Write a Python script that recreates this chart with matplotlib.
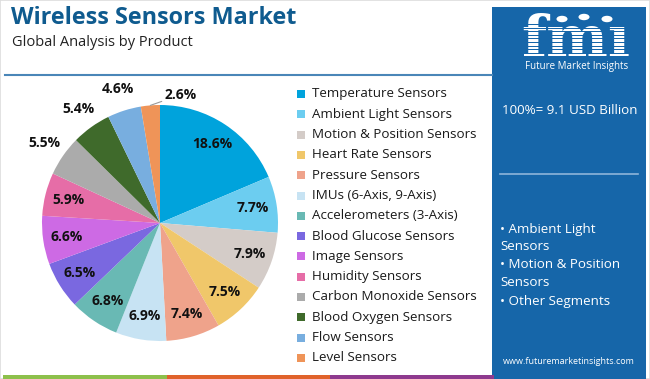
import numpy as np
import matplotlib.pyplot as plt
from matplotlib.patches import Rectangle, Circle

W, H = 650, 379

# data
products = ['Temperature Sensors', 'Ambient Light Sensors', 'Motion & Position Sensors',
            'Heart Rate Sensors', 'Pressure Sensors', 'IMUs (6-Axis, 9-Axis)',
            'Accelerometers (3-Axis)', 'Blood Glucose Sensors', 'Image Sensors',
            'Humidity Sensors', 'Carbon Monoxide Sensors', 'Blood Oxygen Sensors',
            'Flow Sensors', 'Level Sensors']
shares = [18.6, 7.7, 7.9, 7.5, 7.4, 6.9, 6.8, 6.5, 6.6, 5.9, 5.5, 5.4, 4.6, 2.6]
colors = ['#00A3DC', '#6CCDF0', '#D4CCC8', '#F0C76A', '#EFA38B', '#C7E3F3', '#69B9B4',
          '#7A68E0', '#CD6AE4', '#E66DA7', '#ABABAB', '#3F6A2B', '#78AEDF', '#EF9458']
total_text = '100%= 9.1 USD Billion'
top_segments = ['Ambient Light', 'Motion & Position', 'Other Segments']

title_col = '#0F5B8F'
panel_col = '#1666A9'


def fx(x):
    return x / W


def fy(y):
    return 1 - y / H


fig = plt.figure(figsize=(W / 100, H / 100), dpi=100)
fig.patch.set_facecolor('white')

# thin frame round the card
fig.patches.append(Rectangle((0, 0), 1, 1, transform=fig.transFigure, fill=False,
                             edgecolor='#DDDDDD', linewidth=1.2))

# title block
fig.text(fx(11), fy(18), 'Wireless Sensors Market', fontsize=16.8, fontweight='bold',
         family='Open Sans', color=title_col, va='center', ha='left')
fig.text(fx(12), fy(42), 'Global Analysis by Product', fontsize=10.5,
         family='Open Sans', color='#222222', va='center', ha='left')
fig.lines.append(plt.Line2D([fx(5), fx(492)], [fy(75), fy(75)], transform=fig.transFigure,
                            color='#4A86B8', linewidth=1.5))

# pie
R = 118
cx, cy = 160, 223
ax = fig.add_axes([fx(cx - R), fy(cy + R), 2 * R / W, 2 * R / H])
wedges, _ = ax.pie(shares, colors=colors, startangle=90, counterclock=False, radius=1,
                   wedgeprops=dict(linewidth=0))
ax.set_xlim(-1, 1)
ax.set_ylim(-1, 1)
ax.axis('off')

for i, w in enumerate(wedges):
    a = np.deg2rad((w.theta1 + w.theta2) / 2)
    lab = f'{shares[i]:.1f}%'
    kw = dict(fontsize=10, fontweight='bold', family='Open Sans', color='#111111',
              ha='center', va='center')
    if i == len(wedges) - 1:
        ax.annotate(lab, xy=(np.cos(a), np.sin(a)), xytext=(np.cos(a) + 0.12, np.sin(a) + 0.09),
                    ha='left', va='center', fontsize=10, fontweight='bold', family='Open Sans',
                    color='#111111', annotation_clip=False,
                    arrowprops=dict(arrowstyle='-', color='#999999', lw=0.8,
                                    shrinkA=0, shrinkB=0))
    elif shares[i] < 5.6:
        ax.text(1.19 * np.cos(a), 1.19 * np.sin(a), lab, clip_on=False, **kw)
    else:
        ax.text(0.8 * np.cos(a), 0.8 * np.sin(a), lab, **kw)

# legend
for i, (name, c) in enumerate(zip(products, colors)):
    y = 94 + i * 20.3
    fig.patches.append(Rectangle((fx(297), fy(y + 4)), 8 / W, 8 / H, transform=fig.transFigure,
                                 facecolor=c, edgecolor='none'))
    fig.text(fx(312), fy(y), name, fontsize=9.6, family='Open Sans', color='#1A1A1A',
             va='center', ha='left')

# right panel
fig.patches.append(Rectangle((fx(492), 0), (646 - 492) / W, fy(7), transform=fig.transFigure,
                             facecolor=panel_col, edgecolor='none'))
fig.text(fx(576), fy(57), 'fm\u0131', fontsize=42, fontweight='bold', family='DejaVu Serif',
         color='white', ha='center', va='baseline')
for yy in np.arange(24, 57, 3.6):
    fig.patches.append(Rectangle((fx(515), fy(yy + 0.9)), 125 / W, 0.9 / H,
                                 transform=fig.transFigure, facecolor=panel_col,
                                 edgecolor='none', zorder=5))
for px, py in [(562, 19), (584, 17), (607, 19)]:
    fig.patches.append(Circle((fx(px), fy(py)), 0.0085, transform=fig.transFigure,
                              facecolor='white', edgecolor='none'))
fig.text(fx(577), fy(67), 'Future Market Insights', fontsize=7, family='Open Sans',
         color='white', ha='center', va='center')
fig.text(fx(502), fy(110), total_text, fontsize=9.6, family='Open Sans', color='white',
         ha='left', va='center')
fig.lines.append(plt.Line2D([fx(500), fx(638)], [fy(174), fy(174)], transform=fig.transFigure,
                            color='#8DB5DA', linewidth=1.2))
y = 229
for seg in top_segments:
    if seg.endswith('Segments'):
        fig.text(fx(500), fy(y), '\u2022 ' + seg, fontsize=9.6, family='Open Sans',
                 color='white', ha='left', va='center')
        y += 18
    else:
        fig.text(fx(500), fy(y), '\u2022 ' + seg, fontsize=9.6, family='Open Sans',
                 color='white', ha='left', va='center')
        fig.text(fx(500), fy(y + 18), 'Sensors', fontsize=9.6, family='Open Sans',
                 color='white', ha='left', va='center')
        y += 36
fig.text(fx(569), fy(362), 'www.futuremarketinsights.com', fontsize=6.5, family='Open Sans',
         color='white', ha='center', va='center')

# bottom colour strip
for x0, x1, c in [(3, 167, '#8DC04B'), (167, 330, '#E0622B'), (330, 494, '#8E3A8E')]:
    fig.patches.append(Rectangle((fx(x0), 0), (x1 - x0) / W, 4 / H, transform=fig.transFigure,
                                 facecolor=c, edgecolor='none'))

fig.savefig('out.png', dpi=100)
